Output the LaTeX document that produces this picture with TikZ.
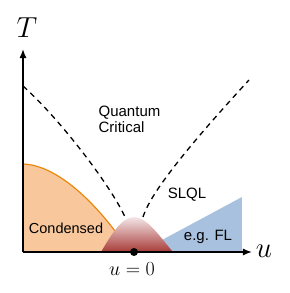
\documentclass[tikz,border=0pt]{standalone}
\usepackage{fix-cm}
\usepackage{fontspec}
\setsansfont{Liberation Sans}
\usetikzlibrary{arrows.meta}
\definecolor{condfill}{HTML}{F8C89C}
\definecolor{condline}{HTML}{EA870F}
\definecolor{flfill}{HTML}{A7C1DF}
\definecolor{domebot}{HTML}{A73B37}
\definecolor{dometop}{HTML}{F4E6E8}

\begin{document}
\begin{tikzpicture}[x=1pt, y=1pt]
    % Define styles
    \tikzstyle{phase} = [font=\sffamily\fontsize{15}{16}\selectfont, align=left, inner sep=0pt]
    \tikzstyle{axislabel} = [font=\fontsize{29}{32}\selectfont, inner sep=0pt]
    \tikzstyle{axis} = [-{Latex[length=9pt,width=7pt]}, line width=1.4pt]
    \tikzstyle{crossover} = [dash pattern=on 5.5pt off 4.5pt, line width=1.3pt]
    \useasboundingbox (0,0) rectangle (290,293);

    % Coordinates
    \coordinate (origin) at (23,41);
    \coordinate (ttop) at (23,244);
    \coordinate (uend) at (252,41);
    \coordinate (qcp) at (134,41);

    % Regions
    \fill[condfill] (23,41) -- (23,129) .. controls (55,128) and (90,95) .. (115,62) -- (128,41) -- cycle;
    \draw[condline, line width=1.2pt] (23,129) .. controls (55,128) and (90,95) .. (115,62);
    \fill[flfill] (150,41) -- (162,53) -- (242,96) -- (242,41) -- cycle;
    \shade[top color=dometop, bottom color=domebot] (101,41) .. controls (110,56) and (121,76) .. (134,76) .. controls (147,76) and (160,56) .. (173,41) -- cycle;

    % Crossover lines
    \draw[crossover] (23,207) .. controls (62,172) and (112,105) .. (125,76);
    \draw[crossover] (143,76) .. controls (152,105) and (205,165) .. (249,213);

    % Axes
    \draw[axis] (origin) -- (uend);
    \draw[axis] (origin) -- (ttop);
    \fill (qcp) circle (4pt);

    % Labels
    \node[axislabel] (T) at (27,265) {$T$};
    \node[axislabel] (u) at (264,42) {$u$};
    \node[font=\fontsize{20}{24}\selectfont, inner sep=0pt] (u0) at (132,24) {$u=0$};
    \node[phase] (qc) at (129.5,174) {Quantum\\Critical};
    \node[phase] (slql) at (187,98) {SLQL};
    \node[phase, font=\sffamily\fontsize{14.5}{16}\selectfont] (cond) at (66,65) {Condensed};
    \node[phase] (fl) at (208,56) {e.g. FL};
\end{tikzpicture}
\end{document}
